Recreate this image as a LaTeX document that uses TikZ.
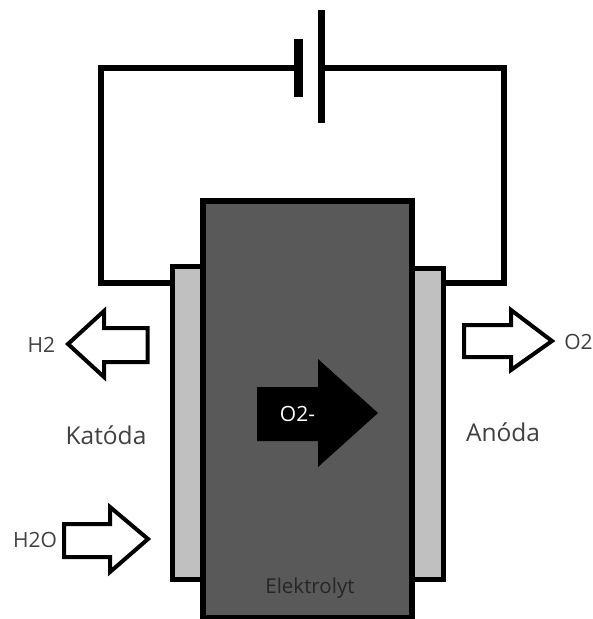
\documentclass[tikz,border=0pt]{standalone}
\usepackage{fontspec}
\setmainfont{Open Sans}
\usetikzlibrary{calc}
\definecolor{elektrolyt}{HTML}{595959}
\definecolor{elektroda}{HTML}{C0C0C0}
\definecolor{popis}{HTML}{404040}
\tikzset{
    wire/.style={line width=6.5pt, line join=miter},
    elektrodabox/.style={draw, line width=5pt, fill=elektroda},
    gas/.style={draw, line width=4pt, fill=white, line join=miter},
    popisek/.style={text=popis, inner sep=0pt},
}

\begin{document}
\begin{tikzpicture}[x=1pt, y=-1pt]
    \useasboundingbox (0, 0) rectangle (593, 619);
    \def\Wl{101} \def\Wr{504} \def\Wt{68} \def\Wb{283}
    \coordinate (short) at (298.5, \Wt);
    \coordinate (long) at (321.5, \Wt);
    \coordinate (katoda) at (172.5, \Wb);
    \coordinate (anoda) at (443.5, \Wb);

    % okruh
    \draw [wire] (katoda) -- (\Wl, \Wb) -- (\Wl, \Wt) -- (short);
    \draw [wire] (long) -- (\Wr, \Wt) -- (\Wr, \Wb) -- (anoda);
    \draw [line width=9pt] ($ (short) + (0, -29) $) -- ($ (short) + (0, 29) $);
    \draw [line width=7pt] ($ (long) + (0, -58) $) -- ($ (long) + (0, 55) $);

    \draw [elektrodabox] (172.5, 266.5) rectangle (230, 579.5);
    \draw [elektrodabox] (443.5, 268) rectangle (390, 579.5);
    \draw [line width=6pt, fill=elektrolyt] (203, 200.5) rectangle (412, 618);

    % sipky
    \fill (257, 387) -- (318, 387) -- (318, 359) -- (378, 413) -- (318, 467) -- (318, 441) -- (257, 441) -- cycle;
    \draw [gas] (147.5, 328) -- (104, 328) -- (104, 311) -- (68, 344) -- (104, 377) -- (104, 362) -- (147.5, 362) -- cycle;
    \draw [gas] (64, 524) -- (110, 524) -- (110, 507) -- (148, 539) -- (110, 572) -- (110, 557) -- (64, 557) -- cycle;
    \draw [gas] (464, 325) -- (511, 325) -- (511, 310) -- (552, 341) -- (511, 370) -- (511, 357) -- (464, 357) -- cycle;

    \node [popisek, font=\fontsize{24.5}{28}\selectfont] (katodaL) at (106, 435) {Katóda};
    \node [popisek, font=\fontsize{24.5}{28}\selectfont] (anodaL) at (503, 432) {Anóda};
    \node [popisek, font=\fontsize{21}{25}\selectfont] (h2) at (41.5, 345) {H2};
    \node [popisek, font=\fontsize{21}{25}\selectfont] (h2o) at (35, 540) {H2O};
    \node [popisek, font=\fontsize{21}{25}\selectfont] (o2) at (578.5, 342) {O2};
    \node [inner sep=0pt, text=white, font=\fontsize{21}{25}\selectfont] (ion) at (297.5, 414) {O2-};
    \node [inner sep=0pt, text=black!85, font=\fontsize{20.5}{25}\selectfont] (elektrolytL) at (310, 588) {Elektrolyt};
\end{tikzpicture}
\end{document}
